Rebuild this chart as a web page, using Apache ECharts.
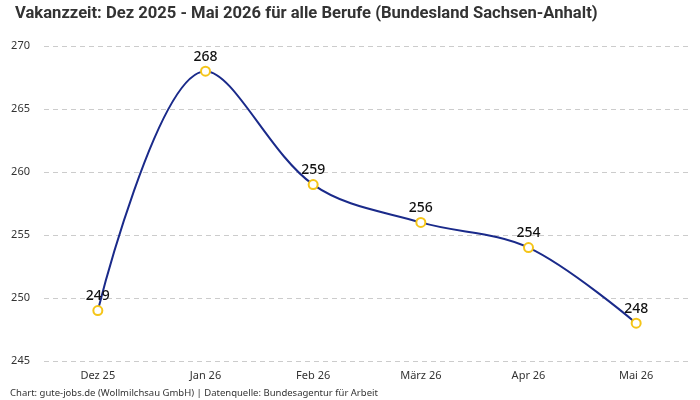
<!DOCTYPE html>
<html>
<head>
<meta charset="utf-8">
<script src="https://cdn.jsdelivr.net/npm/echarts@6/dist/echarts.min.js"></script>
<style>
  html, body { margin: 0; padding: 0; background: #fff; }
  #chart { width: 700px; height: 400px; }
</style>
</head>
<body>
<div id="chart"></div>
<script>
const months = ['Dez 25', 'Jan 26', 'Feb 26', 'März 26', 'Apr 26', 'Mai 26']
const vakanzTage = [249, 268, 259, 256, 254, 248]

const chart = echarts.init(document.getElementById('chart'))
chart.setOption({
  animation: false,
  title: {
    text: 'Vakanzzeit: Dez 2025 - Mai 2026 für alle Berufe (Bundesland Sachsen-Anhalt)',
    left: 10, top: 0,
    textStyle: { fontFamily: 'Roboto', fontWeight: 'bold', fontSize: 16.6, color: '#333' },
  },
  graphic: [{
    type: 'text', left: 10, top: 388,
    style: { text: 'Chart: gute-jobs.de (Wollmilchsau GmbH) | Datenquelle: Bundesagentur für Arbeit', fontSize: 9.5, fontFamily: 'Noto Sans', fill: '#333' },
  }],
  grid: { left: 44, right: 10, top: 46, bottom: 39 },
  xAxis: {
    type: 'category', data: months,
    axisLine: { show: false }, axisTick: { show: false },
    axisLabel: { color: '#333', fontSize: 11, fontFamily: 'Noto Sans', margin: 9 },
  },
  yAxis: {
    type: 'value', min: 245, max: 270, interval: 5,
    axisLabel: { color: '#333', fontSize: 11, fontFamily: 'Noto Sans', margin: 14 },
    splitLine: { lineStyle: { color: '#ccc', type: [5, 4] } },
  },
  series: [{
    type: 'line', data: vakanzTage, smooth: 0.35,
    symbol: 'circle', symbolSize: 9,
    lineStyle: { color: '#1a2a8a', width: 2 },
    itemStyle: { color: '#fff', borderColor: '#f5c518', borderWidth: 2 },
    label: { show: true, position: 'top', distance: 2, fontSize: 14, fontFamily: 'Noto Sans', fontWeight: 500, color: '#111' },
  }],
})
</script>
</body>
</html>
